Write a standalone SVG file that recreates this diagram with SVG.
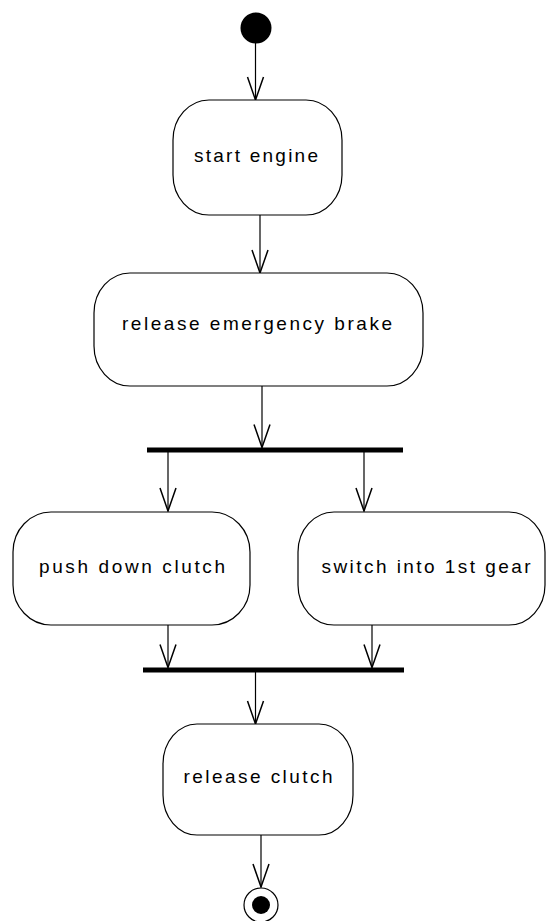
<svg xmlns="http://www.w3.org/2000/svg" width="546" height="921" viewBox="0 0 546 921">
  <style>
    .action rect { fill: #ffffff; stroke: #000000; stroke-width: 1.2; }
    .action text { font-family: "Liberation Sans", "DejaVu Sans", sans-serif; font-size: 19px; fill: #000000; text-anchor: middle; }
    .bar { fill: #000000; }
    .flow { stroke: #000000; stroke-width: 1.2; fill: none; marker-end: url(#open-arrow); }
  </style>
  <defs>
    <marker id="open-arrow" markerUnits="userSpaceOnUse" viewBox="-26 -12 28 24" refX="0" refY="0" markerWidth="28" markerHeight="24" orient="auto" overflow="visible">
      <path d="M -23 -8 L 0 0 L -23 8" fill="none" stroke="#000000" stroke-width="1.5"/>
    </marker>
  </defs>

  <rect width="546" height="921" fill="#ffffff"/>

  <!-- connectors -->
  <g id="connectors">
    <path class="flow" d="M 255.5 42 L 255.5 100"/>
    <path class="flow" d="M 260 215 L 260 273"/>
    <path class="flow" d="M 262 386 L 262 447.5"/>
    <path class="flow" d="M 168 452 L 168 511"/>
    <path class="flow" d="M 364 452 L 364 511"/>
    <path class="flow" d="M 168 625 L 168 667.5"/>
    <path class="flow" d="M 372 625 L 372 667.5"/>
    <path class="flow" d="M 255.5 672 L 255.5 724"/>
    <path class="flow" d="M 261 835 L 261 887"/>
  </g>

  <!-- initial node -->
  <g id="initial">
    <circle cx="256" cy="28" r="15.5" fill="#000000"/>
  </g>

  <g id="start-engine" class="action">
    <rect x="173" y="100" width="169" height="115" rx="36" ry="40"/>
    <text x="256" y="162" textLength="124" lengthAdjust="spacing">start engine</text>
  </g>

  <g id="release-emergency-brake" class="action">
    <rect x="94" y="273" width="329" height="113" rx="36" ry="40"/>
    <text x="257" y="330" textLength="270" lengthAdjust="spacing">release emergency brake</text>
  </g>

  <g id="fork">
    <rect class="bar" x="147" y="447.5" width="256" height="5"/>
  </g>

  <g id="push-down-clutch" class="action">
    <rect x="13" y="512" width="237" height="113" rx="38" ry="40"/>
    <text x="132" y="573" textLength="186" lengthAdjust="spacing">push down clutch</text>
  </g>

  <g id="switch-into-1st-gear" class="action">
    <rect x="298" y="512" width="247" height="113" rx="36" ry="40"/>
    <text x="426" y="573" textLength="209" lengthAdjust="spacing">switch into 1st gear</text>
  </g>

  <g id="join">
    <rect class="bar" x="143" y="667.5" width="261" height="5"/>
  </g>

  <g id="release-clutch" class="action">
    <rect x="163" y="724" width="190" height="111" rx="34" ry="40"/>
    <text x="258" y="783" textLength="149" lengthAdjust="spacing">release clutch</text>
  </g>

  <!-- final node -->
  <g id="final">
    <circle cx="261" cy="905" r="17" fill="#ffffff" stroke="#000000" stroke-width="1.2"/>
    <circle cx="261" cy="905" r="9" fill="#000000"/>
  </g>
</svg>
